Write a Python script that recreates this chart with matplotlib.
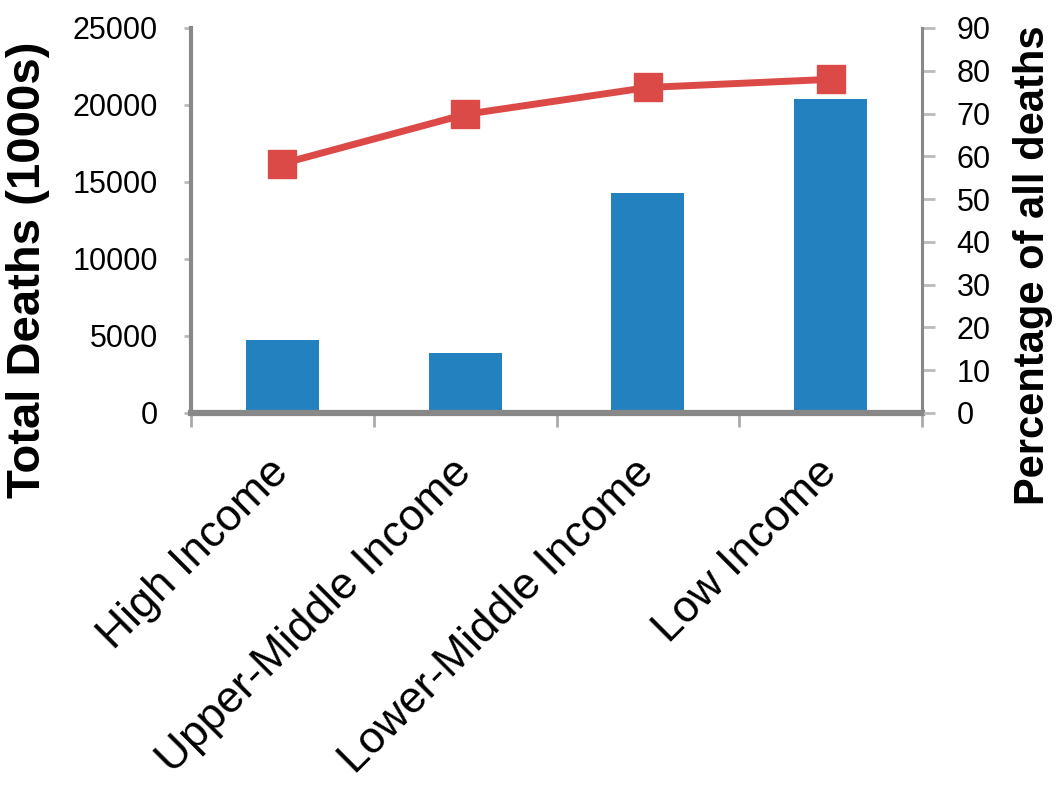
import numpy as np
import matplotlib.pyplot as plt
from matplotlib.ticker import FixedLocator

plt.rcParams['font.family'] = ['Liberation Sans', 'DejaVu Sans']

groups = ["High Income", "Upper-Middle Income", "Lower-Middle Income", "Low Income"]
total_deaths = [4740, 3920, 14300, 20390]      # thousands
pct_deaths = [58.3, 69.8, 76.1, 78.0]           # % of all deaths

bar_col = '#2381bf'
line_col = '#dc4a48'
axis_col = '#888888'

fig = plt.figure(figsize=(10.57, 7.93), dpi=100)
ax = fig.add_axes([0.1807, 0.4792, 0.6916, 0.4855])
x = np.arange(len(groups))

ax.bar(x, total_deaths, width=0.4, color=bar_col, zorder=2)
ax.set_xlim(-0.5, len(groups) - 0.5)
ax.set_ylim(0, 25000)
ax.set_yticks(np.arange(0, 25001, 5000))

ax2 = ax.twinx()
ax2.plot(x, pct_deaths, color=line_col, lw=5, marker='s', ms=20, zorder=3)
ax2.set_ylim(0, 90)
ax2.set_yticks(np.arange(0, 91, 10))

# spines
for a in (ax, ax2):
    for s in a.spines.values():
        s.set_color(axis_col)
    a.spines['top'].set_visible(False)
ax.spines['left'].set_linewidth(3)
ax.spines['bottom'].set_linewidth(4.5)
ax.spines['right'].set_visible(False)
ax2.spines['left'].set_visible(False)
ax2.spines['bottom'].set_visible(False)
ax2.spines['right'].set_linewidth(2.2)

# category labels centred, tick marks on boundaries
ax.set_xticks(x)
ax.set_xticklabels(groups, rotation=45, ha='right', va='center',
                   rotation_mode='anchor', fontsize=32)
ax.tick_params(axis='x', length=0, pad=38)
ax.xaxis.set_minor_locator(FixedLocator(np.arange(-0.5, len(groups), 1.0)))
ax.tick_params(axis='x', which='minor', length=10, width=2, color='#aaaaaa',
               direction='out')

ax.tick_params(axis='y', length=5, width=2, color='#bbbbbb', labelsize=22,
               pad=19)
ax2.tick_params(axis='y', length=9, width=2, color='#bbbbbb', labelsize=22,
                pad=16)

ax.set_ylabel("Total Deaths (1000s)", fontsize=34, fontweight='bold')
ax.yaxis.set_label_coords(-0.193, 0.371)
ax2.set_ylabel("Percentage of all deaths", fontsize=30, fontweight='bold')
ax2.yaxis.set_label_coords(1.124, 0.383)

ax.set_zorder(ax2.get_zorder() - 1)
ax2.patch.set_visible(False)

fig.savefig("out.png", dpi=100)
